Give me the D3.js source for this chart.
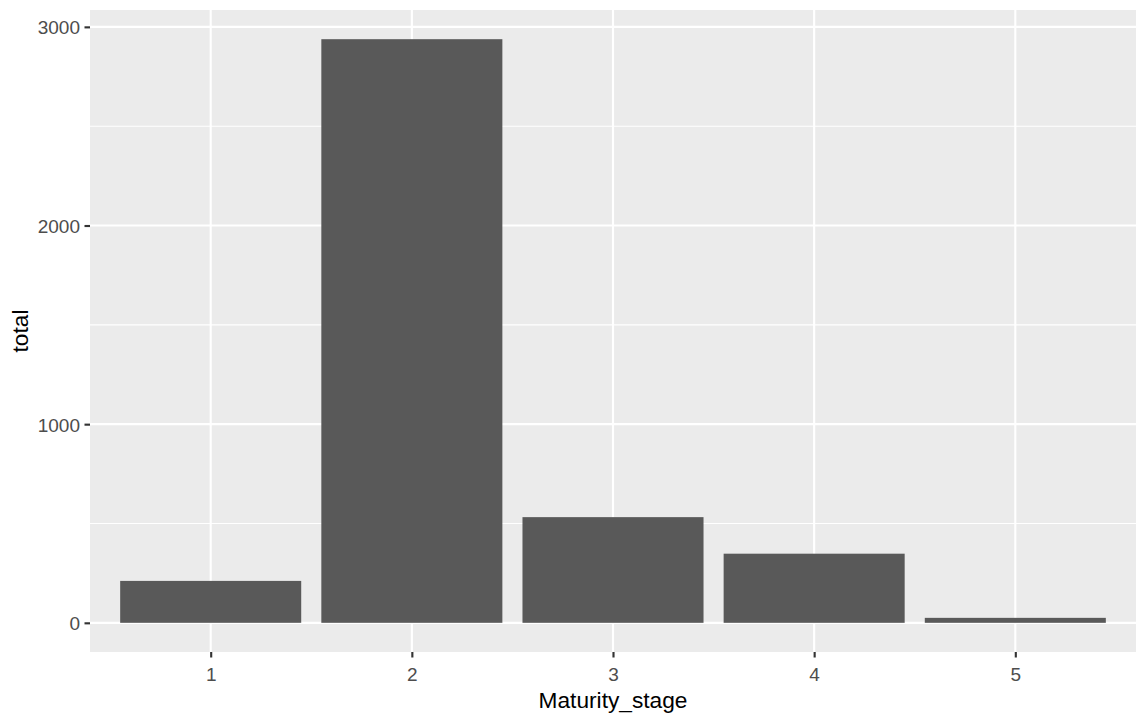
<html>
    <head>
        <meta charset="utf-8">
        <style>
            body { margin: 0; background: #ffffff; }
            text { font-family: "Liberation Sans", Arial, sans-serif; }
        </style>
    </head>
    <body>
        <script src="https://d3js.org/d3.v7.min.js"></script>
        <svg id="chart" width="1142" height="716"></svg>

        <script type='text/JavaScript'>
            // data read off the picture
            var stages = ["1", "2", "3", "4", "5"];
            var totals = [211, 2938, 532, 348, 25];
            var yMajorTicks = [0, 1000, 2000, 3000];
            var yMinorTicks = [500, 1500, 2500];

            var panel = {left: 90, right: 1136, top: 10, bottom: 652};

            var svg = d3.select("#chart");

            // discrete x, ggplot style: 0.6 units padding each side, bars 0.9 wide
            var step = (panel.right - panel.left) / (stages.length + 0.2);
            var xScale = d3.scalePoint()
                .domain(stages)
                .range([panel.left + 0.6 * step, panel.right - 0.6 * step]);
            var barWidth = 0.9 * step;

            // continuous y with 5% expansion
            var yMax = d3.max(totals);
            var pad = yMax * 0.05;
            var yScale = d3.scaleLinear()
                .domain([-pad, yMax + pad])
                .range([panel.bottom, panel.top]);

            // panel background
            svg.append("rect")
                .attr("x", panel.left)
                .attr("y", panel.top)
                .attr("width", panel.right - panel.left)
                .attr("height", panel.bottom - panel.top)
                .attr("fill", "#EBEBEB");

            // gridlines
            svg.append("g").selectAll("line")
                .data(yMinorTicks)
                .join("line")
                .attr("x1", panel.left).attr("x2", panel.right)
                .attr("y1", (d) => yScale(d)).attr("y2", (d) => yScale(d))
                .attr("stroke", "#ffffff").attr("stroke-width", 1.07);

            svg.append("g").selectAll("line")
                .data(yMajorTicks)
                .join("line")
                .attr("x1", panel.left).attr("x2", panel.right)
                .attr("y1", (d) => yScale(d)).attr("y2", (d) => yScale(d))
                .attr("stroke", "#ffffff").attr("stroke-width", 2.13);

            svg.append("g").selectAll("line")
                .data(stages)
                .join("line")
                .attr("x1", (d) => xScale(d)).attr("x2", (d) => xScale(d))
                .attr("y1", panel.top).attr("y2", panel.bottom)
                .attr("stroke", "#ffffff").attr("stroke-width", 2.13);

            // bars
            svg.append("g").selectAll("rect")
                .data(stages.map((s, i) => ({stage: s, total: totals[i]})))
                .join("rect")
                .attr("x", (d) => xScale(d.stage) - barWidth / 2)
                .attr("width", barWidth)
                .attr("y", (d) => yScale(d.total))
                .attr("height", (d) => yScale(0) - yScale(d.total))
                .attr("fill", "#595959");

            // axes
            var xAxis = d3.axisBottom(xScale).tickSize(5.5).tickPadding(6);
            var gx = svg.append("g")
                .attr("transform", "translate(0," + panel.bottom + ")")
                .call(xAxis);

            var yAxis = d3.axisLeft(yScale)
                .tickValues(yMajorTicks)
                .tickFormat(d3.format("d"))
                .tickSize(5.5)
                .tickPadding(4.5);
            var gy = svg.append("g")
                .attr("transform", "translate(" + panel.left + ",0)")
                .call(yAxis);

            [gx, gy].forEach((g) => {
                g.select(".domain").remove();
                g.selectAll(".tick line").attr("stroke", "#333333").attr("stroke-width", 2.13);
                g.selectAll(".tick text")
                    .attr("fill", "#4D4D4D")
                    .style("font-family", "'Liberation Sans', Arial, sans-serif")
                    .style("font-size", "19px");
            });
            gx.selectAll(".tick text").attr("dy", null).attr("y", 0).attr("transform", "translate(0,28.5)");
            gy.selectAll(".tick text").attr("dy", "0.36em");

            // axis titles
            svg.append("text")
                .attr("x", (panel.left + panel.right) / 2)
                .attr("y", 708)
                .attr("text-anchor", "middle")
                .attr("fill", "#000000")
                .style("font-size", "22.7px")
                .text("Maturity_stage");

            svg.append("text")
                .attr("transform", "translate(28," + ((panel.top + panel.bottom) / 2) + ") rotate(-90)")
                .attr("text-anchor", "middle")
                .attr("fill", "#000000")
                .style("font-size", "22.7px")
                .text("total");
        </script>
    </body>
</html>
